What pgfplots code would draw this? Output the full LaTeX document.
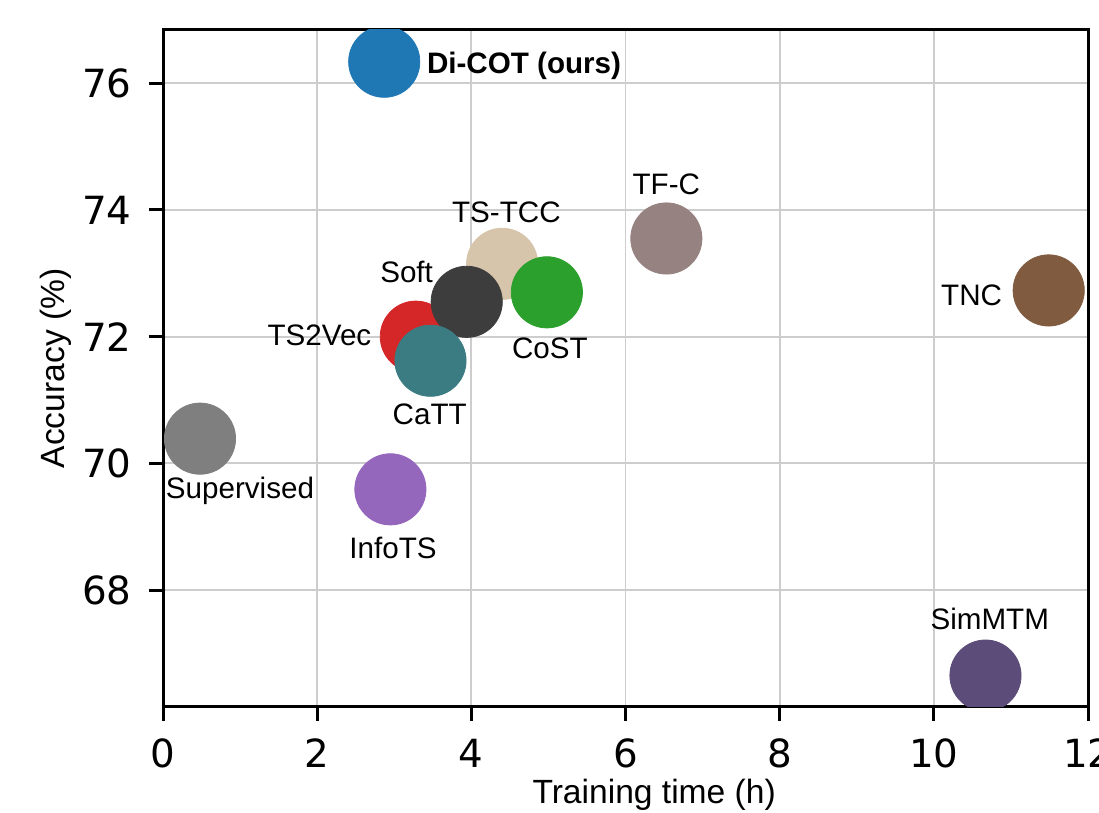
\documentclass[border=0pt]{standalone}
\usepackage{fontspec}
\setmainfont{Liberation Sans}
\newfontfamily\tickfont{DejaVu Sans}
\usepackage{pgfplots}
\pgfplotsset{compat=1.18}
\definecolor{cDiCOT}{HTML}{1F77B4}
\definecolor{cTSVec}{HTML}{D62728}
\definecolor{cCoST}{HTML}{2CA02C}
\definecolor{cInfoTS}{HTML}{9467BD}
\definecolor{cSup}{HTML}{7F7F7F}
\definecolor{cTNC}{RGB}{128,91,64}
\definecolor{cTFC}{RGB}{150,130,128}
\definecolor{cTSTCC}{RGB}{214,197,170}
\definecolor{cSoft}{RGB}{61,61,61}
\definecolor{cCaTT}{RGB}{59,124,130}
\definecolor{cSim}{RGB}{92,76,122}
\definecolor{gridc}{RGB}{205,205,205}
\pgfplotsset{
  layers/mylayers/.define layer set={axis background,axis grid,main,axis ticks,axis lines,axis tick labels,axis descriptions,axis foreground}{},
  pt/.style={only marks, mark=*, mark size=17.8pt, color=#1, mark options={draw=none, fill=#1}},
}
\tikzset{lbl/.style={font=\fontsize{14.8}{17}\selectfont, inner sep=0pt}}
\begin{document}
\begin{tikzpicture}
\begin{axis}[
  set layers=mylayers,
  width=462.5pt, height=338.35pt, scale only axis,
  xmin=0, xmax=12, ymin=66.159, ymax=76.841,
  xtick={0,2,4,6,8,10,12}, ytick={68,70,72,74,76},
  grid=major, grid style={line width=0.9pt, color=gridc},
  axis line style={line width=1.5pt},
  tick align=outside, major tick length=7pt,
  every tick/.style={line width=1.5pt, black},
  tick pos=left,
  /pgf/number format/assume math mode=true,
  ticklabel style={font=\tickfont\fontsize{19.4}{23}\selectfont, inner sep=0pt},
  xticklabel style={anchor=north},
  yticklabel style={anchor=east},
  xticklabel shift=9pt, yticklabel shift=8.5pt,
  xlabel={Training time (h)}, ylabel={Accuracy (\%)},
  label style={font=\fontsize{16.8}{20}\selectfont, inner sep=0pt},
  xlabel style={at={(axis description cs:0.531,-0.1428)}, anchor=base},
  ylabel style={at={(axis description cs:-0.106,0.5)}, anchor=base},
  clip marker paths=true,
]
\addplot[pt=cSup] coordinates {(0.48,70.39)};
\addplot[pt=cInfoTS] coordinates {(2.95,69.59)};
\addplot[pt=cTSTCC] coordinates {(4.40,73.15)};
\addplot[pt=cTSVec] coordinates {(3.28,72.00)};
\addplot[pt=cSoft] coordinates {(3.94,72.55)};
\addplot[pt=cCoST] coordinates {(4.98,72.70)};
\addplot[pt=cCaTT] coordinates {(3.47,71.62)};
\addplot[pt=cTFC] coordinates {(6.53,73.55)};
\addplot[pt=cTNC] coordinates {(11.49,72.73)};
\addplot[pt=cSim] coordinates {(10.67,66.65)};
\addplot[pt=cDiCOT] coordinates {(2.87,76.34)};
\node[lbl, anchor=base west] at (axis cs:3.42,76.16) {\bfseries Di-COT (ours)};
\node[lbl, anchor=base] at (axis cs:4.455,73.80) {TS-TCC};
\node[lbl, anchor=base] at (axis cs:6.53,74.237) {TF-C};
\node[lbl, anchor=base east] at (axis cs:3.507,72.852) {Soft};
\node[lbl, anchor=base] at (axis cs:5.02,71.659) {CoST};
\node[lbl, anchor=base] at (axis cs:3.46,70.606) {CaTT};
\node[lbl, anchor=base east] at (axis cs:2.707,71.853) {TS2Vec};
\node[lbl, anchor=base east] at (axis cs:10.89,72.485) {TNC};
\node[lbl, anchor=base] at (axis cs:0.999,69.449) {Supervised};
\node[lbl, anchor=base] at (axis cs:2.984,68.502) {InfoTS};
\node[lbl, anchor=base] at (axis cs:10.725,67.381) {SimMTM};
\end{axis}
\pgfresetboundingbox
\path[use as bounding box] ([shift={(-81.5pt,-53.15pt)}]current axis.south west) rectangle ([shift={(5.5pt,15pt)}]current axis.north east);
\end{tikzpicture}
\end{document}
